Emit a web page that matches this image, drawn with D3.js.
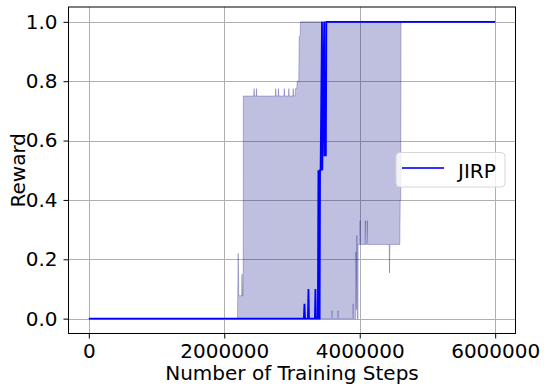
<!DOCTYPE html>
<html lang="en">
<head>
    <meta charset="UTF-8">
    <script src="https://d3js.org/d3.v7.min.js"></script>
    <style>
        body { margin: 0; background: #fff; }
        svg text { font-family: "DejaVu Sans", sans-serif; fill: #000; }
    </style>
    <title>JIRP reward</title>
</head>
<body>
    <svg width="546" height="389"></svg>
    <script>
        // mean reward over runs (blue line)
        const meanSteps = [0, 3175000, 3184000, 3193000, 3235000, 3243000, 3251000, 3338000, 3346000, 3354000,
            3382000, 3390000, 3396000, 3408000, 3414000, 3422000, 3443000, 3447000, 3476000, 3480000, 3500000, 3507000, 6000000];
        const meanReward = [0, 0, 0.05, 0, 0, 0.1, 0, 0, 0.1, 0,
            0, 0.5, 0, 0, 0.5, 0.5, 1.0, 0.5, 1.0, 0.55, 0.55, 1.0, 1.0];

        // upper edge of the shaded band
        const maxSteps = [0, 2195000, 2205000, 2215000, 2255000, 2262000, 2270000, 2279000, 2281000,
            2435000, 2440000, 2445000, 2470000, 2475000, 2480000, 2755000, 2760000, 2765000,
            2795000, 2800000, 2805000, 2880000, 2886000, 2892000, 2950000, 2954000, 2958000,
            3013000, 3018000, 3023000, 3045000, 3052000, 3070000, 3077000, 3100000, 3106000,
            3120000, 3126000, 4610000, 6000000];
        const maxReward = [0, 0, 0.22, 0.077, 0.077, 0.15, 0.077, 0.077, 0.75,
            0.75, 0.775, 0.75, 0.75, 0.775, 0.75, 0.75, 0.775, 0.75,
            0.75, 0.775, 0.75, 0.75, 0.775, 0.75, 0.75, 0.775, 0.75,
            0.75, 0.775, 0.75, 0.75, 0.775, 0.775, 0.8, 0.8, 0.95,
            0.95, 1.0, 1.0, 1.0];

        // lower edge of the shaded band
        const minSteps = [0, 3585000, 3590000, 3595000, 3675000, 3680000, 3685000, 3898000, 3903000, 3908000,
            3938000, 3943000, 3950000, 3957000, 3965000, 3975000, 3977000, 4001000, 4006000, 4011000,
            4078000, 4083000, 4088000, 4107000, 4112000, 4117000, 4435000, 4440000, 4445000,
            4592000, 4598000, 4606000, 4610000, 6000000];
        const minReward = [0, 0, 0.027, 0, 0, 0.027, 0, 0, 0.05, 0,
            0, 0.225, 0.03, 0.28, 0, 0, 0.25, 0.25, 0.33, 0.25,
            0.25, 0.33, 0.25, 0.25, 0.33, 0.25, 0.25, 0.154, 0.25,
            0.25, 0.4, 0.4, 1.0, 1.0];

        const xTicks = [0, 2000000, 4000000, 6000000];
        const yTicks = [0, 0.2, 0.4, 0.6, 0.8, 1.0];
        const seriesName = 'JIRP';

        const svg = d3.select('svg');
        const margin = { top: 7, right: 30.5, bottom: 55.5, left: 68.5 };
        const width = +svg.attr('width'), height = +svg.attr('height');
        const x0 = margin.left, x1 = width - margin.right;
        const y0 = height - margin.bottom, y1 = margin.top;

        const xScale = d3.scaleLinear().domain([-300000, 6300000]).range([x0, x1]);
        const yScale = d3.scaleLinear().domain([-0.05, 1.05]).range([y0, y1]);

        // grid
        const grid = svg.append('g');
        grid.selectAll('.gx').data(xTicks).enter().append('line')
            .attr('x1', d => Math.round(xScale(d)) + 0.5).attr('x2', d => Math.round(xScale(d)) + 0.5)
            .attr('y1', y1).attr('y2', y0)
            .attr('stroke', '#b0b0b0').attr('stroke-width', 1);
        grid.selectAll('.gy').data(yTicks).enter().append('line')
            .attr('y1', d => Math.round(yScale(d)) + 0.5).attr('y2', d => Math.round(yScale(d)) + 0.5)
            .attr('x1', x0).attr('x2', x1)
            .attr('stroke', '#b0b0b0').attr('stroke-width', 1);

        // shaded band: upper edge forward, lower edge back
        const upper = maxSteps.map((s, i) => [s, maxReward[i]]);
        const lower = minSteps.map((s, i) => [s, minReward[i]]).reverse();
        const bandLine = d3.line().x(d => xScale(d[0])).y(d => yScale(d[1]));
        svg.append('path')
            .attr('d', bandLine(upper.concat(lower)) + 'Z')
            .attr('fill', 'navy').attr('fill-opacity', 0.25)
            .attr('stroke', 'navy').attr('stroke-opacity', 0.25).attr('stroke-width', 1);

        // mean line
        const meanLine = d3.line().x(d => xScale(d[0])).y(d => yScale(d[1]));
        svg.append('path')
            .attr('d', meanLine(meanSteps.map((s, i) => [s, meanReward[i]])))
            .attr('fill', 'none').attr('stroke', 'blue').attr('stroke-width', 1.8);

        // axes
        const xAxis = svg.append('g').attr('transform', `translate(0, ${y0})`)
            .call(d3.axisBottom(xScale).tickValues(xTicks).tickFormat(d3.format('d'))
                .tickSize(5).tickSizeOuter(0).tickPadding(5));
        const yAxis = svg.append('g').attr('transform', `translate(${x0}, 0)`)
            .call(d3.axisLeft(yScale).tickValues(yTicks).tickFormat(d3.format('.1f'))
                .tickSize(5).tickSizeOuter(0).tickPadding(6));
        [xAxis, yAxis].forEach(a => {
            a.select('.domain').remove();
            a.selectAll('line').attr('stroke', '#000');
            a.selectAll('text').style('font-size', '20px').style('font-family', '"DejaVu Sans", sans-serif');
        });

        // spines
        svg.append('rect')
            .attr('x', x0).attr('y', y1).attr('width', x1 - x0).attr('height', y0 - y1)
            .attr('fill', 'none').attr('stroke', '#000').attr('stroke-width', 1);

        // axis labels
        svg.append('text')
            .attr('x', (x0 + x1) / 2).attr('y', 380)
            .attr('text-anchor', 'middle').style('font-size', '20px')
            .text('Number of Training Steps');
        svg.append('text')
            .attr('transform', `translate(25, ${(y0 + y1) / 2}) rotate(-90)`)
            .attr('text-anchor', 'middle').style('font-size', '20px')
            .text('Reward');

        // legend
        const legend = svg.append('g');
        legend.append('rect')
            .attr('x', 396).attr('y', 152.5).attr('width', 109).attr('height', 34.5)
            .attr('rx', 4)
            .attr('fill', '#fff').attr('fill-opacity', 0.8)
            .attr('stroke', '#d6d6d6').attr('stroke-width', 1);
        legend.append('line')
            .attr('x1', 402).attr('x2', 444).attr('y1', 168).attr('y2', 168)
            .attr('stroke', 'blue').attr('stroke-width', 2).attr('stroke-opacity', 0.8);
        legend.append('text')
            .attr('x', 458).attr('y', 178)
            .style('font-size', '20px')
            .text(seriesName);
    </script>
</body>
</html>
